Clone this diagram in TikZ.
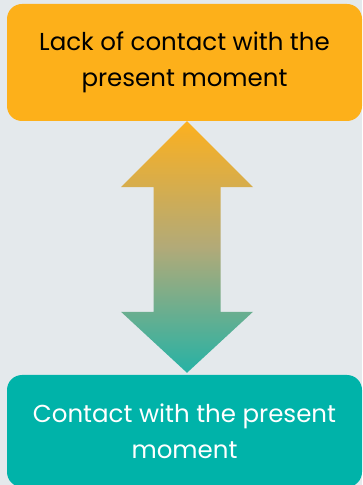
\documentclass[tikz,border=0pt]{standalone}
\usepackage{fontspec}
\setmainfont{Poppins}
\usetikzlibrary{positioning}
\definecolor{bggray}{RGB}{228,233,236}
\definecolor{boxorange}{RGB}{253,176,26}
\definecolor{boxteal}{RGB}{0,179,169}
\definecolor{arroworange}{RGB}{252,176,31}
\definecolor{arrowtan}{RGB}{178,170,120}
\definecolor{arrowteal}{RGB}{38,178,165}
\tikzset{
  box/.style={rounded corners=15pt, minimum width=355pt, inner sep=0pt,
    align=center, font=\fontsize{24.5}{36}\selectfont},
}
\begin{document}
\begin{tikzpicture}[x=1pt,y=1pt]
  \fill[bggray] (0,0) rectangle (362,485);
  \useasboundingbox (0,0) rectangle (362,485);
  \node[box, fill=boxorange, minimum height=117pt, text=black] (lack) at (184.5,422.5) {Lack of contact with the\\present moment};
  \node[box, fill=boxteal, minimum height=112pt, text=white] (contact) at (184.5,54) {Contact with the present\\moment};
  \coordinate (up) at ([xshift=2.5pt]lack.south);
  \coordinate (down) at ([xshift=2.5pt,yshift=2pt]contact.north);
  \shade[top color=arroworange, bottom color=arrowteal, middle color=arrowtan]
    (up) -- ++(66,-66) -- ++(-32.5,0) -- ([xshift=33.5pt,yshift=61pt]down) -- ++(32.5,0)
    -- (down) -- ++(-66,61) -- ++(32.5,0) -- ([xshift=-33.5pt,yshift=-66pt]up) -- ++(-32.5,0) -- cycle;
\end{tikzpicture}
\end{document}
